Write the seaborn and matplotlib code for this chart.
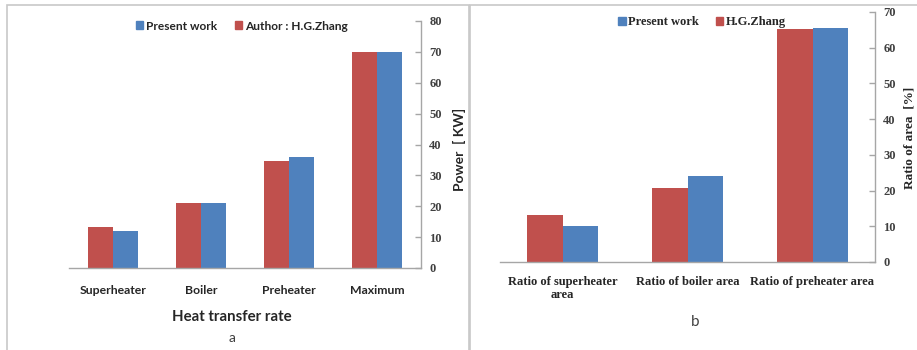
import numpy as np
import pandas as pd
import matplotlib
matplotlib.use("Agg")
import matplotlib.pyplot as plt
from matplotlib.patches import Patch, Rectangle
import seaborn as sns

# Panel a: heat transfer rate per component [KW]
rate_categories = ["Superheater", "Boiler", "Preheater", "Maximum"]
rate_present = [12.0, 21.2, 36.0, 70.0]
rate_zhang = [13.3, 21.0, 34.7, 70.0]

# Panel b: share of heat exchanger area [%]
area_categories = ["Ratio of superheater\narea", "Ratio of boiler area", "Ratio of preheater area"]
area_present = [10.0, 24.0, 65.5]
area_zhang = [13.3, 20.8, 65.3]

present_label = "Present work"
rate_zhang_label = "Author : H.G.Zhang"
area_zhang_label = "H.G.Zhang"

RED = "#C0504D"
BLUE = "#4F81BD"
AXIS_GREY = "#a6a6a6"
TEXT = "#262626"

sns.set_theme(style="white")
plt.rcParams["font.family"] = ["Lato", "DejaVu Sans"]

W, H = 917, 350
fig = plt.figure(figsize=(W / 100, H / 100), dpi=100)


def fx(px):
    return px / W


def fy(py):
    return 1 - py / H


def axes_at(x0, x1, ytop, ybot):
    return fig.add_axes([fx(x0), fy(ybot), fx(x1) - fx(x0), fy(ytop) - fy(ybot)])


def draw_panel(ax, cats, zhang, present, zhang_label, ymax, xfont, xsize, xpad):
    n = len(cats)
    df = pd.DataFrame({
        "category": cats * 2,
        "source": [zhang_label] * n + [present_label] * n,
        "value": zhang + present,
    })
    sns.barplot(data=df, x="category", y="value", hue="source",
                hue_order=[zhang_label, present_label], palette=[RED, BLUE],
                width=0.57, saturation=1, linewidth=0, errorbar=None,
                legend=False, ax=ax)
    ax.set_xlim(-0.5, n - 0.5)
    ax.set_ylim(0, ymax)
    ax.set_xlabel("")
    ax.set_ylabel("")
    for side in ("top", "left"):
        ax.spines[side].set_visible(False)
    for side in ("right", "bottom"):
        ax.spines[side].set_color(AXIS_GREY)
        ax.spines[side].set_linewidth(1.0)
    ax.yaxis.tick_right()
    ax.set_yticks(np.arange(0, ymax + 1, 10))
    ax.tick_params(axis="y", direction="in", length=4, width=1, color=AXIS_GREY,
                   pad=6, labelsize=9, labelcolor="#404040")
    for lab in ax.get_yticklabels():
        lab.set_fontfamily("Liberation Serif")
        lab.set_fontweight("bold")
    ax.set_xticks(range(n))
    ax.set_xticklabels(cats, fontfamily=xfont, fontweight="bold",
                       fontsize=xsize, color=TEXT, linespacing=1.1)
    ax.tick_params(axis="x", which="major", length=0, pad=xpad)
    ax.set_xticks(np.arange(-0.5, n), minor=True)
    ax.tick_params(axis="x", which="minor", direction="out", length=4,
                   width=1, color=AXIS_GREY)
    ax.set_facecolor("none")


# Panel frames
fig.add_artist(Rectangle((fx(7), fy(360)), fx(469) - fx(7), fy(5) - fy(360),
                         transform=fig.transFigure, fill=False,
                         edgecolor="#c8c8c8", linewidth=1.2))
fig.add_artist(Rectangle((fx(470), fy(360)), fx(930) - fx(470), fy(5) - fy(360),
                         transform=fig.transFigure, fill=False,
                         edgecolor="#c8c8c8", linewidth=1.2))

ax1 = axes_at(69, 421, 21, 268)
draw_panel(ax1, rate_categories, rate_zhang, rate_present, rate_zhang_label,
           80, "Lato", 8.8, 12)

ax2 = axes_at(500, 875, 12, 262)
draw_panel(ax2, area_categories, area_zhang, area_present, area_zhang_label,
           70, "Liberation Serif", 9, 10)

# Axis titles
fig.text(fx(232), fy(317), "Heat transfer rate", ha="center", va="center",
         fontsize=10.8, fontweight="bold", color=TEXT, family="Lato")
fig.text(fx(232), fy(338), "a", ha="center", va="center", fontsize=10,
         color="#404040", family="Lato")
fig.text(fx(695), fy(322), "b", ha="center", va="center", fontsize=11,
         color="#404040", family="Lato")
fig.text(fx(459), fy(149), "Power  [ KW]", rotation=90, ha="center",
         va="center", fontsize=10, fontweight="bold", color=TEXT, family="Lato")
fig.text(fx(909), fy(138), "Ratio of area  [%]", rotation=90, ha="center",
         va="center", fontsize=9.5, fontweight="bold", color=TEXT,
         family="Liberation Serif")

# Legends
fig.legend(handles=[Patch(color=BLUE, label=present_label),
                    Patch(color=RED, label=rate_zhang_label)],
           loc="center", bbox_to_anchor=(fx(242), fy(26)), ncol=2,
           frameon=False, handlelength=0.6, handleheight=0.6,
           handletextpad=0.25, columnspacing=1.5,
           prop={"family": "Lato", "weight": "bold", "size": 8.6},
           labelcolor=TEXT)
fig.legend(handles=[Patch(color=BLUE, label=present_label),
                    Patch(color=RED, label=area_zhang_label)],
           loc="center", bbox_to_anchor=(fx(702), fy(22)), ncol=2,
           frameon=False, handlelength=0.6, handleheight=0.6,
           handletextpad=0.2, columnspacing=1.3,
           prop={"family": "Liberation Serif", "weight": "bold", "size": 9},
           labelcolor=TEXT)

fig.savefig("out.png", dpi=100, facecolor="white")
